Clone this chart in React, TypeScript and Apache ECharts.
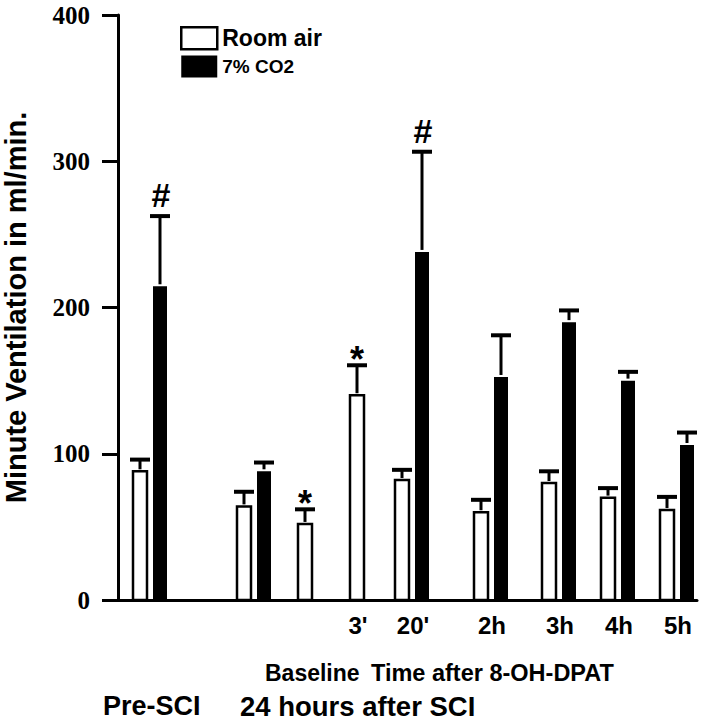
import React, { useEffect, useRef } from "react";
import * as echarts from "echarts";

// ---- data ----
const groupLabels = ["", "", "", "3'", "20'", "2h", "3h", "4h", "5h"];
// group centre positions along the (hidden) horizontal value axis
const groupPos = [32, 136, 187, 239, 294, 373, 441, 500, 559];
const roomAir = [88, 64, 52, 140, 82, 60, 80, 70, 61.5];
const roomAirSem = [8, 10, 10, 20.5, 7, 8.5, 8, 6.5, 9];
const roomAirMarks = ["", "", "*", "*", "", "", "", "", ""];
const co2: (number | null)[] = [214.5, 88, null, null, 238, 152.5, 190, 150, 106];
const co2Sem: (number | null)[] = [48, 6, null, null, 68.5, 28.5, 8, 6, 8.5];
const co2Marks = ["#", "", "", "", "#", "", "", "", ""];
const yMin = 0;
const yMax = 400;
const yStep = 100;

const SANS = "Liberation Sans";
const SERIF = "Liberation Serif";
const BAR_W = 14;
const PAIR_OFF = 10;
const CAP_HALF = 10;

function makeRender(kind: "air" | "co2") {
  return (params: any, api: any) => {
    const i = api.value(3);
    const x = api.value(0);
    const v = api.value(1);
    const sem = api.value(2);
    const paired = co2[i] != null;
    const off = paired ? (kind === "air" ? -PAIR_OFF : PAIR_OFF) : 0;
    const top = api.coord([x, v]);
    const base = api.coord([x, 0]);
    const cap = api.coord([x, v + sem]);
    const cx = top[0];
    const bx = cx + off;
    const children: any[] = [];
    children.push({
      type: "rect",
      shape: { x: bx - BAR_W / 2, y: top[1], width: BAR_W, height: base[1] - top[1] },
      style:
        kind === "air"
          ? { fill: "#fff", stroke: "#000", lineWidth: 2.5 }
          : { fill: "#000", stroke: "#000", lineWidth: 0 },
    });
    children.push({
      type: "line",
      shape: { x1: bx, y1: top[1] - 2, x2: bx, y2: cap[1] },
      style: { stroke: "#000", lineWidth: 3 },
    });
    children.push({
      type: "line",
      shape: { x1: bx - CAP_HALF, y1: cap[1], x2: bx + CAP_HALF, y2: cap[1] },
      style: { stroke: "#000", lineWidth: 4 },
    });
    const mark = kind === "air" ? roomAirMarks[i] : co2Marks[i];
    if (mark === "#") {
      children.push({
        type: "text",
        style: {
          text: "#", x: bx + 1, y: cap[1] - 21, align: "center", verticalAlign: "middle",
          font: `bold 34px ${SANS}`, fill: "#000",
        },
      });
    } else if (mark === "*") {
      children.push({
        type: "text",
        style: {
          text: "*", x: bx, y: cap[1] - 6, align: "center", verticalAlign: "middle",
          font: `bold 36px ${SANS}`, fill: "#000",
        },
      });
    }
    if (kind === "air" && groupLabels[i]) {
      children.push({
        type: "text",
        style: {
          text: groupLabels[i], x: cx + 1, y: base[1] + 25, align: "center", verticalAlign: "middle",
          font: `bold 24px ${SANS}`, fill: "#000",
        },
      });
    }
    return { type: "group", children };
  };
}

export default function App() {
  const ref = useRef<HTMLDivElement>(null);
  useEffect(() => {
    if (!ref.current) return;
    const chart = echarts.init(ref.current, undefined, { renderer: "svg" });
    const airData = groupPos.map((x, i) => [x, roomAir[i], roomAirSem[i], i]);
    const co2Data = groupPos
      .map((x, i) => (co2[i] == null ? null : [x, co2[i] as number, co2Sem[i] as number, i]))
      .filter((d) => d != null);
    chart.setOption({
      animation: false,
      backgroundColor: "#fff",
      grid: { left: 118, right: 6, top: 15, bottom: 120, containLabel: false, outerBoundsMode: "none" },
      legend: {
        orient: "vertical",
        left: 180,
        top: 26,
        padding: 0,
        itemWidth: 36,
        itemHeight: 22,
        itemGap: 5,
        selectedMode: false,
        textStyle: { fontFamily: SANS, fontWeight: "bold", color: "#000" },
        data: [
          {
            name: "Room air",
            icon: "rect",
            itemStyle: { color: "#fff", borderColor: "#000", borderWidth: 2.5 },
            textStyle: { fontSize: 23, fontFamily: SANS, fontWeight: "bold", color: "#000" },
          },
          {
            name: "7% CO2",
            icon: "rect",
            itemStyle: { color: "#000", borderWidth: 0 },
            textStyle: { fontSize: 19, fontFamily: SANS, fontWeight: "bold", color: "#000" },
          },
        ],
      },
      xAxis: {
        type: "value",
        min: 0,
        max: 579,
        axisLine: { show: true, onZero: false, lineStyle: { color: "#000", width: 3 } },
        axisTick: { show: false },
        axisLabel: { show: false },
        splitLine: { show: false },
      },
      yAxis: {
        type: "value",
        min: yMin,
        max: yMax,
        interval: yStep,
        name: "Minute Ventilation in ml/min.",
        nameLocation: "middle",
        nameGap: 88,
        nameMoveOverlap: false,
        nameTextStyle: { fontFamily: SANS, fontWeight: "bold", fontSize: 29, color: "#000" },
        axisLine: { show: true, lineStyle: { color: "#000", width: 3 } },
        axisTick: { show: true, length: 16, lineStyle: { color: "#000", width: 3 } },
        axisLabel: {
          margin: 28,
          fontFamily: SERIF,
          fontWeight: "bold",
          fontSize: 25,
          color: "#000",
        },
        splitLine: { show: false },
      },
      graphic: [
        {
          type: "text",
          left: 265,
          top: 661,
          style: { text: "Baseline", font: `bold 23px ${SANS}`, fill: "#000" },
        },
        {
          type: "text",
          left: 371,
          top: 661,
          style: { text: "Time after 8-OH-DPAT", font: `bold 23.5px ${SANS}`, fill: "#000" },
        },
        {
          type: "text",
          left: 103,
          top: 692,
          style: { text: "Pre-SCI", font: `bold 27px ${SANS}`, fill: "#000" },
        },
        {
          type: "text",
          left: 240,
          top: 692,
          style: { text: "24 hours after SCI", font: `bold 27.5px ${SANS}`, fill: "#000" },
        },
      ],
      series: [
        {
          name: "Room air",
          type: "custom",
          clip: false,
          renderItem: makeRender("air"),
          encode: { x: 0, y: 1 },
          itemStyle: { color: "#fff", borderColor: "#000" },
          data: airData,
          z: 2,
        },
        {
          name: "7% CO2",
          type: "custom",
          clip: false,
          renderItem: makeRender("co2"),
          encode: { x: 0, y: 1 },
          itemStyle: { color: "#000" },
          data: co2Data,
          z: 2,
        },
      ],
    });
    return () => chart.dispose();
  }, []);
  return (
    <div
      ref={ref}
      style={{ position: "fixed", left: 0, top: 0, width: 703, height: 720, background: "#fff" }}
    />
  );
}
